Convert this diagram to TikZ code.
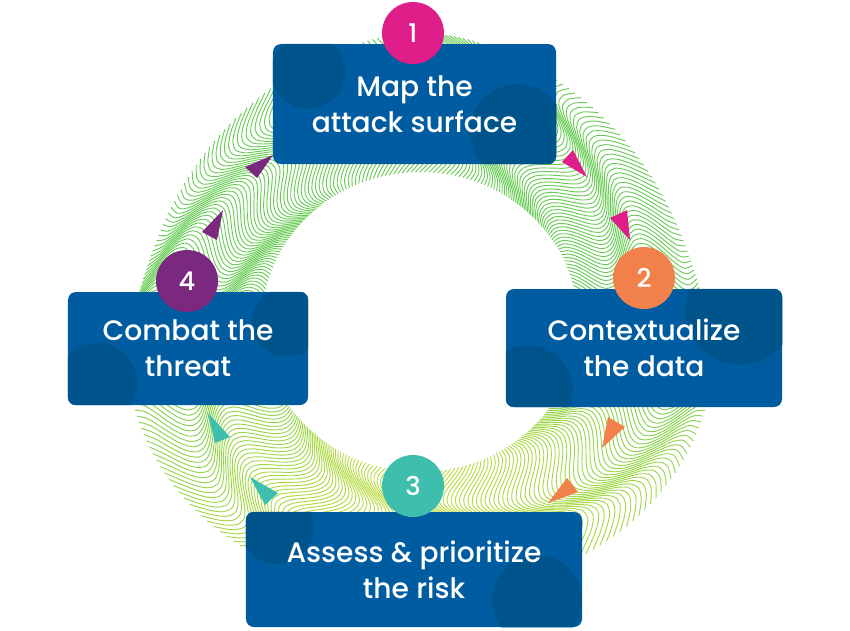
\documentclass[tikz,border=0pt]{standalone}
\usepackage{fontspec}
\setmainfont{Poppins}[UprightFont={* Medium}]

\definecolor{boxblue}{RGB}{0,92,161}
\definecolor{boxshade}{RGB}{0,84,140}
\definecolor{stepmagenta}{RGB}{224,30,138}
\definecolor{steporange}{RGB}{242,128,74}
\definecolor{stepteal}{RGB}{62,190,172}
\definecolor{steppurple}{RGB}{122,40,128}
\definecolor{ringgreen}{RGB}{104,204,84}
\definecolor{ringyellow}{RGB}{206,224,60}

\begin{document}
\begin{tikzpicture}
  [x=0.03cm,y=-0.03cm,
   stepbox/.style={fill=boxblue, rounded corners=0.24cm, inner sep=0pt},
   steptext/.style={text=white, align=center, font=\fontsize{24}{30.5}\selectfont},
   numdot/.style={circle, minimum size=1.86cm, inner sep=0pt, text=white, font=\fontsize{22}{22}\selectfont}]
  \useasboundingbox (0,0) rectangle (850,630);

  % wavy ribbon
  \foreach \a in {0,1.2,...,358.8}{
    \pgfmathsetmacro\mx{max(0,80*sin(\a))}
    \draw[ringyellow!\mx!ringgreen, line width=0.8pt] plot[domain=0:1, samples=16, smooth]
      ({420+(158+(130+12*sin(3*\a))*\x)*cos(\a+5*sin(540*\x+4*\a))},
       {322+(150+(127+12*sin(3*\a))*\x)*sin(\a+5*sin(540*\x+4*\a))});
  }

  % arrow heads
  \foreach \c/\p/\q/\r in {stepmagenta/{562,162}/{573,150}/{587,177},
                           stepmagenta/{610,218}/{627,210}/{630,240},
                           steporange/{608,417}/{625,427}/{602,448},
                           steporange/{567,478}/{578,492}/{548,503},
                           stepteal/{250,477}/{278,493}/{265,505},
                           stepteal/{208,413}/{230,437}/{215,443},
                           steppurple/{202,232}/{223,210}/{217,240},
                           steppurple/{245,167}/{273,155}/{257,178}}
    \fill[\c] (\p) -- (\q) -- (\r) -- cycle;

  \node[stepbox, minimum width=8.49cm, minimum height=3.6cm] (map) at (414.5,104) {};
  \node[stepbox, minimum width=8.28cm, minimum height=3.54cm] (context) at (644,348) {};
  \node[stepbox, minimum width=10.08cm, minimum height=3.45cm] (assess) at (414,569.5) {};
  \node[stepbox, minimum width=7.2cm, minimum height=3.39cm] (combat) at (188,348.5) {};

  \begin{scope}
    \clip[rounded corners=0.24cm] (map.south west) rectangle (map.north east);
    \fill[boxshade] (308,72) circle[radius=37] (518,132) circle[radius=48];
  \end{scope}
  \begin{scope}
    \clip[rounded corners=0.24cm] (context.south west) rectangle (context.north east);
    \fill[boxshade] (740,310) circle[radius=55] (528,390) circle[radius=45];
  \end{scope}
  \begin{scope}
    \clip[rounded corners=0.24cm] (assess.south west) rectangle (assess.north east);
    \fill[boxshade] (277,527) circle[radius=37] (537,600) circle[radius=45];
  \end{scope}
  \begin{scope}
    \clip[rounded corners=0.24cm] (combat.south west) rectangle (combat.north east);
    \fill[boxshade] (287,322) circle[radius=35] (97,383) circle[radius=40];
  \end{scope}

  \node[steptext] (maptext) at (map) {Map the\\attack surface};
  \node[steptext] (contexttext) at (context) {Contextualize\\the data};
  \node[steptext] (assesstext) at (assess) {Assess \& prioritize\\the risk};
  \node[steptext] (combattext) at (combat) {Combat the\\threat};

  \node[numdot, fill=stepmagenta] (one) at (413,33) {1};
  \node[numdot, fill=steporange] (two) at (644,278) {2};
  \node[numdot, fill=stepteal] (three) at (413,486) {3};
  \node[numdot, fill=steppurple] (four) at (187,281) {4};
\end{tikzpicture}
\end{document}
